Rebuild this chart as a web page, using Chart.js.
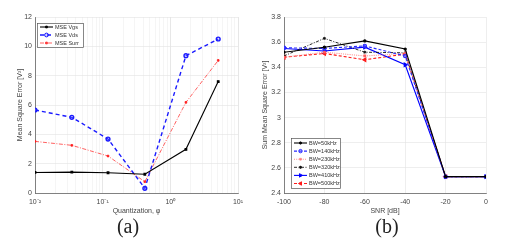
<!DOCTYPE html>
<html>
<head>
<meta charset="utf-8">
<script src="https://cdn.jsdelivr.net/npm/chart.js@4.4.1/dist/chart.umd.min.js"></script>
<style>
  html, body { margin: 0; padding: 0; background: #fff; }
  #wrap { position: relative; width: 512px; height: 249px; overflow: hidden; }
  .box { position: absolute; top: 0; width: 256px; height: 249px; }
  .cap { position: absolute; top: 215px; font-family: 'Liberation Serif', 'DejaVu Serif', serif; font-size: 20px; color: #222; transform: translateX(-50%); }
</style>
</head>
<body>
<div id="wrap">
  <div class="box" style="left:0"><canvas id="chart-a" width="256" height="249"></canvas></div>
  <div class="box" style="left:256px"><canvas id="chart-b" width="256" height="249"></canvas></div>
  <div class="cap" style="left:128px">(a)</div>
  <div class="cap" style="left:387px">(b)</div>
</div>
<script>
// (a) quantization sweep
const quant = [0.01, 0.035, 0.12, 0.42, 1.7, 5.1];
const mseVgs = [1.4, 1.42, 1.38, 1.28, 2.98, 7.6];
const mseVds = [5.66, 5.16, 3.68, 0.32, 9.36, 10.5];
const mseSurr = [3.52, 3.25, 2.52, 0.77, 6.18, 9.04];
const yTicksA = [0, 2, 4, 6, 8, 10, 12];

// (b) SNR sweep
const snr = [-100, -80, -60, -40, -20, 0];
const bw50 = [3.52, 3.56, 3.61, 3.545, 2.53, 2.53];
const bw140 = [3.555, 3.55, 3.57, 3.49, 2.53, 2.53];
const bw230 = [3.48, 3.52, 3.49, 3.51, 2.53, 2.53];
const bw320 = [3.49, 3.63, 3.52, 3.515, 2.53, 2.53];
const bw410 = [3.55, 3.53, 3.56, 3.42, 2.53, 2.53];
const bw500 = [3.48, 3.51, 3.46, 3.505, 2.53, 2.53];
const yTicksB = [2.4, 2.6, 2.8, 3, 3.2, 3.4, 3.6, 3.8];

const FONT = "'Liberation Sans', Arial, sans-serif";
const TICK = '#444';

const pairs = (xs, ys) => xs.map((x, i) => ({ x, y: ys[i] }));

// boxed legend drawn inside the plot, MATLAB style
const boxLegend = {
  id: 'boxLegend',
  afterDraw(chart, args, opts) {
    const { ctx, chartArea } = chart;
    const x0 = chartArea.left + opts.dx, y0 = chartArea.top + opts.dy;
    ctx.save();
    ctx.fillStyle = '#fff';
    ctx.fillRect(x0, y0, opts.w, opts.h);
    ctx.strokeStyle = '#555';
    ctx.lineWidth = 0.7;
    ctx.strokeRect(x0 + 0.5, y0 + 0.5, opts.w, opts.h);
    ctx.font = opts.fontSize + 'px ' + FONT;
    ctx.textBaseline = 'middle';
    chart.data.datasets.forEach((ds, i) => {
      const y = y0 + opts.first + i * opts.step;
      const lx0 = x0 + 3, lx1 = x0 + 3 + opts.line;
      ctx.strokeStyle = ds.borderColor;
      ctx.lineWidth = ds.borderWidth;
      ctx.setLineDash(ds.borderDash || []);
      ctx.beginPath();
      ctx.moveTo(lx0, y);
      ctx.lineTo(lx1, y);
      ctx.stroke();
      ctx.setLineDash([]);
      ctx.fillStyle = ds.pointBackgroundColor;
      ctx.strokeStyle = ds.borderColor;
      ctx.lineWidth = 1;
      Chart.helpers.drawPoint(ctx, {
        pointStyle: ds.pointStyle, radius: ds.pointRadius,
        rotation: ds.pointRotation || 0, borderWidth: 1
      }, (lx0 + lx1) / 2, y);
      ctx.fillStyle = '#333';
      ctx.fillText(ds.label, lx1 + 2, y);
    });
    ctx.restore();
  }
};

const logMinor = [];
[0.01, 0.1, 1].forEach(d => { for (let k = 1; k < 10; k++) logMinor.push(+(d * k).toPrecision(3)); });
logMinor.push(10);
const supLabel = { '0.01': '10⁻²', '0.1': '10⁻¹', '1': '10⁰', '10': '10¹' };

new Chart(document.getElementById('chart-a'), {
  type: 'line',
  data: {
    datasets: [
      { label: 'MSE Vgs', data: pairs(quant, mseVgs), borderColor: '#000', borderWidth: 1.1,
        pointStyle: 'rect', pointRadius: 1.2, pointBackgroundColor: '#000', pointBorderColor: '#000' },
      { label: 'MSE Vds', data: pairs(quant, mseVds), borderColor: '#1a1aff', borderWidth: 1.4, borderDash: [4, 3],
        pointStyle: 'circle', pointRadius: 1.9, pointBackgroundColor: 'rgba(120,120,255,0.3)', pointBorderColor: '#1a1aff' },
      { label: 'MSE Surr', data: pairs(quant, mseSurr), borderColor: '#ff3a3a', borderWidth: 0.8, borderDash: [4, 1.5, 1, 1.5],
        pointStyle: 'rect', pointRadius: 1.2, pointBackgroundColor: '#ff2020', pointBorderColor: '#ff2020' }
    ]
  },
  options: {
    responsive: false, animation: false,
    layout: { padding: { left: 16, top: 17, right: 18, bottom: 34 } },
    plugins: {
      legend: { display: false }, tooltip: { enabled: false },
      boxLegend: { dx: 2, dy: 6, w: 46, h: 24, first: 4, step: 8, line: 13, fontSize: 5.5 }
    },
    elements: { line: { tension: 0 }, point: { borderWidth: 0.9 } },
    scales: {
      x: {
        type: 'logarithmic', min: 0.01, max: 10,
        afterBuildTicks: s => { s.ticks = logMinor.map(v => ({ value: v })); },
        afterFit: s => { s.height = 22; },
        ticks: { autoSkip: false, maxRotation: 0, padding: 5, color: TICK, font: { family: FONT, size: 7 },
          callback: v => supLabel[String(+v.toPrecision(3))] || '' },
        grid: { drawTicks: false, lineWidth: 0.6,
          color: c => supLabel[String(+c.tick.value.toPrecision(3))] ? '#d6d6d6' : '#eeeeee' },
        border: { color: '#666', width: 0.8 },
        title: { display: true, text: 'Quantization, φ', color: TICK, padding: 0, font: { family: FONT, size: 7 } }
      },
      y: {
        min: 0, max: 12,
        afterBuildTicks: s => { s.ticks = yTicksA.map(v => ({ value: v })); },
        afterFit: s => { s.width = 19; },
        ticks: { padding: 3, color: TICK, font: { family: FONT, size: 7 } },
        grid: { drawTicks: false, color: '#e2e2e2', lineWidth: 0.6 },
        border: { color: '#666', width: 0.8 },
        title: { display: true, text: 'Mean Square Error [V²]', color: TICK, padding: 0, font: { family: FONT, size: 7 } }
      }
    }
  },
  plugins: [boxLegend]
});

new Chart(document.getElementById('chart-b'), {
  type: 'line',
  data: {
    datasets: [
      { label: 'BW=50kHz', data: pairs(snr, bw50), borderColor: '#000', borderWidth: 1.1,
        pointStyle: 'circle', pointRadius: 1.1, pointBackgroundColor: '#000', pointBorderColor: '#000' },
      { label: 'BW=140kHz', data: pairs(snr, bw140), borderColor: '#2a2aff', borderWidth: 1.1, borderDash: [3, 2],
        pointStyle: 'circle', pointRadius: 1.7, pointBackgroundColor: 'rgba(120,120,255,0.35)', pointBorderColor: '#2a2aff' },
      { label: 'BW=230kHz', data: pairs(snr, bw230), borderColor: '#ff8f8f', borderWidth: 1.1, borderDash: [1, 1.2],
        pointStyle: 'rect', pointRadius: 1.2, pointBackgroundColor: '#ff6060', pointBorderColor: '#ff6060' },
      { label: 'BW=320kHz', data: pairs(snr, bw320), borderColor: '#111', borderWidth: 0.9, borderDash: [3, 1.5, 1, 1.5],
        pointStyle: 'star', pointRadius: 1.5, pointBackgroundColor: '#111', pointBorderColor: '#111' },
      { label: 'BW=410kHz', data: pairs(snr, bw410), borderColor: '#0000ff', borderWidth: 1.1,
        pointStyle: 'triangle', pointRotation: 90, pointRadius: 2, pointBackgroundColor: '#0000ff', pointBorderColor: '#0000ff' },
      { label: 'BW=500kHz', data: pairs(snr, bw500), borderColor: '#ff1a1a', borderWidth: 1.1, borderDash: [3, 2],
        pointStyle: 'triangle', pointRotation: -90, pointRadius: 2, pointBackgroundColor: '#ff1a1a', pointBorderColor: '#ff1a1a' }
    ]
  },
  options: {
    responsive: false, animation: false,
    layout: { padding: { left: 5, top: 17, right: 26, bottom: 34 } },
    plugins: {
      legend: { display: false }, tooltip: { enabled: false },
      boxLegend: { dx: 7, dy: 121, w: 49, h: 50, first: 5, step: 8.1, line: 13, fontSize: 5.5 }
    },
    elements: { line: { tension: 0 }, point: { borderWidth: 0.9 } },
    scales: {
      x: {
        type: 'linear', min: -100, max: 0,
        afterBuildTicks: s => { s.ticks = snr.map(v => ({ value: v })); },
        afterFit: s => { s.height = 22; },
        ticks: { autoSkip: false, maxRotation: 0, padding: 5, color: TICK, font: { family: FONT, size: 7 } },
        grid: { drawTicks: false, color: '#e2e2e2', lineWidth: 0.6 },
        border: { color: '#666', width: 0.8 },
        title: { display: true, text: 'SNR [dB]', color: TICK, padding: 0, font: { family: FONT, size: 7 } }
      },
      y: {
        min: 2.4, max: 3.8,
        afterBuildTicks: s => { s.ticks = yTicksB.map(v => ({ value: v })); },
        afterFit: s => { s.width = 23; },
        ticks: { padding: 3, color: TICK, font: { family: FONT, size: 7 },
          callback: v => String(+v.toFixed(1)) },
        grid: { drawTicks: false, color: '#e2e2e2', lineWidth: 0.6 },
        border: { color: '#666', width: 0.8 },
        title: { display: true, text: 'Sum Mean Square Error [V²]', color: TICK, padding: 0, font: { family: FONT, size: 7 } }
      }
    }
  },
  plugins: [boxLegend]
});
</script>
</body>
</html>
